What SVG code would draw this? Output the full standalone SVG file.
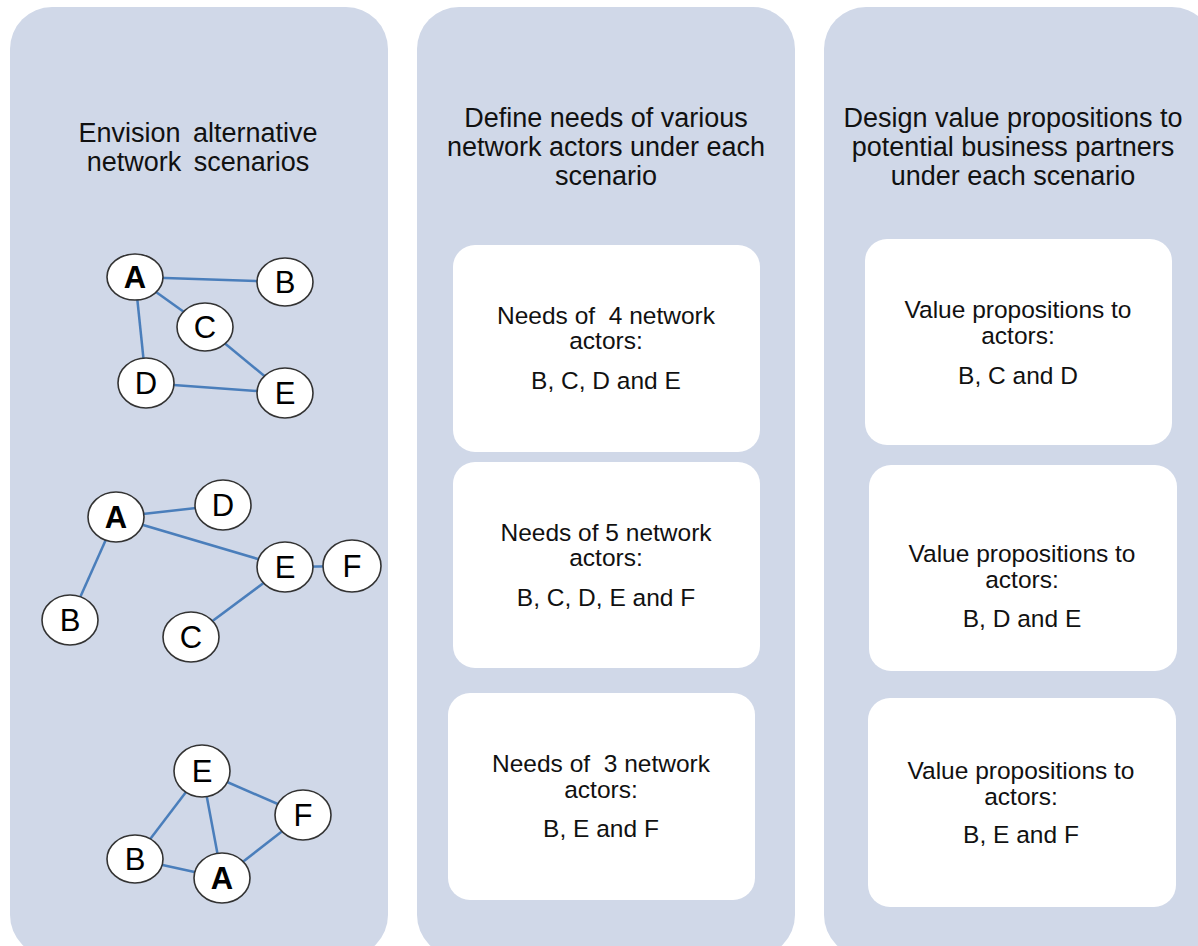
<svg xmlns="http://www.w3.org/2000/svg" width="1198" height="946" viewBox="0 0 1198 946">
<style>
.panel{fill:#D0D8E8;}
.box{fill:#FFFFFF;}
.hdr{font-family:"Liberation Sans",Arial,sans-serif;font-size:27px;fill:#111;text-anchor:middle;white-space:pre;}
.wide{word-spacing:5px;}
.txt{font-family:"Liberation Sans",Arial,sans-serif;font-size:24.5px;fill:#111;text-anchor:middle;white-space:pre;}
.node ellipse{fill:#FFFFFF;stroke:#333;stroke-width:1.6;}
.node text{font-family:"Liberation Sans",Arial,sans-serif;font-size:31px;fill:#000;text-anchor:middle;}
.node text.b{font-weight:bold;}
.edge{stroke:#4A7EBB;stroke-width:2.5;fill:none;}
</style>
<rect width="1198" height="946" fill="#FFFFFF"/>
<g id="panel1">
<rect class="panel" x="10" y="7" width="378" height="950" rx="42"/>
<text class="hdr wide" x="198" y="142">Envision alternative</text>
<text class="hdr wide" x="198" y="171">network scenarios</text>
</g>
<g id="panel2">
<rect class="panel" x="417" y="7" width="378" height="950" rx="42"/>
<text class="hdr" x="606" y="127">Define needs of various</text>
<text class="hdr" x="606" y="156">network actors under each</text>
<text class="hdr" x="606" y="185">scenario</text>
</g>
<g id="panel3">
<rect class="panel" x="824" y="7" width="390" height="950" rx="42"/>
<text class="hdr" x="1013" y="127">Design value propositions to</text>
<text class="hdr" x="1013" y="156">potential business partners</text>
<text class="hdr" x="1013" y="185">under each scenario</text>
</g>
<g id="needs1">
<rect class="box" x="453" y="245" width="307" height="207" rx="22"/>
<text class="txt" x="606" y="324" xml:space="preserve">Needs of  4 network</text>
<text class="txt" x="606" y="349">actors:</text>
<text class="txt" x="606" y="389">B, C, D and E</text>
</g>
<g id="needs2">
<rect class="box" x="453" y="462" width="307" height="206" rx="22"/>
<text class="txt" x="606" y="541">Needs of 5 network</text>
<text class="txt" x="606" y="566">actors:</text>
<text class="txt" x="606" y="606">B, C, D, E and F</text>
</g>
<g id="needs3">
<rect class="box" x="448" y="693" width="307" height="207" rx="22"/>
<text class="txt" x="601" y="772" xml:space="preserve">Needs of  3 network</text>
<text class="txt" x="601" y="798">actors:</text>
<text class="txt" x="601" y="837">B, E and F</text>
</g>
<g id="value1">
<rect class="box" x="865" y="239" width="307" height="206" rx="22"/>
<text class="txt" x="1018" y="318">Value propositions to</text>
<text class="txt" x="1018" y="344">actors:</text>
<text class="txt" x="1018" y="384">B, C and D</text>
</g>
<g id="value2">
<rect class="box" x="869" y="465" width="308" height="206" rx="22"/>
<text class="txt" x="1022" y="562">Value propositions to</text>
<text class="txt" x="1022" y="588">actors:</text>
<text class="txt" x="1022" y="627">B, D and E</text>
</g>
<g id="value3">
<rect class="box" x="868" y="698" width="308" height="209" rx="22"/>
<text class="txt" x="1021" y="779">Value propositions to</text>
<text class="txt" x="1021" y="805">actors:</text>
<text class="txt" x="1021" y="843">B, E and F</text>
</g>
<g id="connectors">
<line class="edge" x1="135" y1="277" x2="285" y2="282"/>
<line class="edge" x1="135" y1="277" x2="205" y2="327"/>
<line class="edge" x1="135" y1="277" x2="146" y2="383"/>
<line class="edge" x1="205" y1="327" x2="285" y2="393"/>
<line class="edge" x1="146" y1="383" x2="285" y2="393"/>
<line class="edge" x1="116" y1="517" x2="223" y2="505"/>
<line class="edge" x1="116" y1="517" x2="285" y2="567"/>
<line class="edge" x1="116" y1="517" x2="70" y2="620"/>
<line class="edge" x1="285" y1="567" x2="352" y2="566"/>
<line class="edge" x1="285" y1="567" x2="191" y2="637"/>
<line class="edge" x1="202" y1="771" x2="135" y2="859"/>
<line class="edge" x1="202" y1="771" x2="222" y2="878"/>
<line class="edge" x1="202" y1="771" x2="303" y2="815"/>
<line class="edge" x1="135" y1="859" x2="222" y2="878"/>
<line class="edge" x1="222" y1="878" x2="303" y2="815"/>
</g>
<g id="s1A" class="node"><ellipse cx="135" cy="277" rx="28" ry="23"/><text class="b" x="135" y="288">A</text></g>
<g id="s1B" class="node"><ellipse cx="285" cy="282" rx="28" ry="24"/><text x="285" y="293">B</text></g>
<g id="s1C" class="node"><ellipse cx="205" cy="327" rx="28" ry="24"/><text x="205" y="338">C</text></g>
<g id="s1D" class="node"><ellipse cx="146" cy="383" rx="28" ry="25"/><text x="146" y="394">D</text></g>
<g id="s1E" class="node"><ellipse cx="285" cy="393" rx="28" ry="25"/><text x="285" y="404">E</text></g>
<g id="s2A" class="node"><ellipse cx="116" cy="517" rx="28" ry="25"/><text class="b" x="116" y="528">A</text></g>
<g id="s2D" class="node"><ellipse cx="223" cy="505" rx="28" ry="25"/><text x="223" y="516">D</text></g>
<g id="s2E" class="node"><ellipse cx="285" cy="567" rx="28" ry="25"/><text x="285" y="578">E</text></g>
<g id="s2F" class="node"><ellipse cx="352" cy="566" rx="29" ry="26"/><text x="352" y="577">F</text></g>
<g id="s2B" class="node"><ellipse cx="70" cy="620" rx="28" ry="25"/><text x="70" y="631">B</text></g>
<g id="s2C" class="node"><ellipse cx="191" cy="637" rx="28" ry="25"/><text x="191" y="648">C</text></g>
<g id="s3E" class="node"><ellipse cx="202" cy="771" rx="28" ry="26"/><text x="202" y="782">E</text></g>
<g id="s3F" class="node"><ellipse cx="303" cy="815" rx="28" ry="25"/><text x="303" y="826">F</text></g>
<g id="s3B" class="node"><ellipse cx="135" cy="859" rx="28" ry="24"/><text x="135" y="870">B</text></g>
<g id="s3A" class="node"><ellipse cx="222" cy="878" rx="28" ry="25"/><text class="b" x="222" y="889">A</text></g>
</svg>
